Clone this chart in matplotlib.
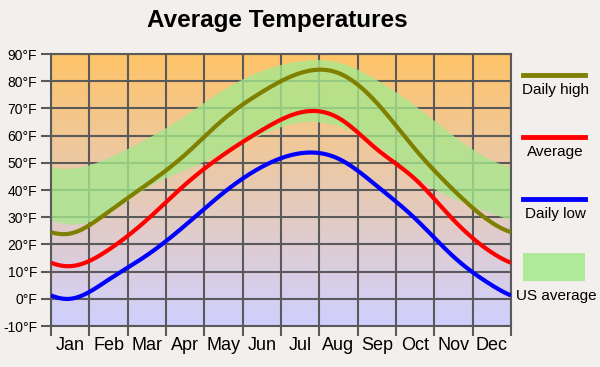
import numpy as np
import matplotlib
matplotlib.use("Agg")
import matplotlib.pyplot as plt
from matplotlib.lines import Line2D
from matplotlib.patches import Rectangle

# monthly values (deg F) at month centres
months = ["Jan", "Feb", "Mar", "Apr", "May", "Jun", "Jul", "Aug", "Sep", "Oct", "Nov", "Dec"]
daily_high = [24, 32, 42, 53, 66, 76, 83, 83, 72, 55, 40, 28]
average = [12, 18, 29, 42, 53, 62, 68.5, 66.5, 55, 44, 29, 17]
daily_low = [0, 7, 16, 27, 39, 48.5, 53.5, 51.5, 41.5, 29.5, 15.5, 5]
us_avg_low = [27.5, 31.5, 41, 47.5, 54, 60.5, 65, 63.5, 56.5, 45, 37, 31.5]
us_avg_high = [48, 52, 59, 67.5, 77, 84, 87.5, 87, 80.5, 71, 60, 51]
y_ticks = list(range(-10, 100, 10))
legend_labels = ["Daily high", "Average", "Daily low", "US average"]

FONT = "Liberation Sans"
BG = "#f2efec"
GREEN = "#a6e88c"


def periodic_spline(vals, xs):
    # smooth closed curve through the 12 monthly points (period = 12 months)
    y = np.asarray(vals, dtype=float)
    n = len(y)
    A = np.zeros((n, n))
    for i in range(n):
        A[i, i] = 4
        A[i, (i - 1) % n] = 1
        A[i, (i + 1) % n] = 1
    rhs = 6 * (np.roll(y, 1) - 2 * y + np.roll(y, -1))
    M = np.linalg.solve(A, rhs)
    knots = np.arange(n) + 0.5
    out = np.empty_like(xs)
    for k, x in enumerate(xs):
        u = (x - 0.5) % n
        i = int(np.floor(u)) % n
        t = u - np.floor(u)
        j = (i + 1) % n
        out[k] = ((1 - t) * y[i] + t * y[j]
                  + ((1 - t) ** 3 - (1 - t)) * M[i] / 6
                  + (t ** 3 - t) * M[j] / 6)
    return out


fig = plt.figure(figsize=(6, 3.67), dpi=100, facecolor=BG)
ax = fig.add_axes([0.085, 0.1117, 0.7667, 0.7411])

# background gradient, orange at top to lavender at bottom
top = np.array([255, 196, 104]) / 255
bot = np.array([208, 208, 255]) / 255
f = np.linspace(0, 1, 256)[:, None]
grad = (top * (1 - f) + bot * f)[:, None, :]
ax.imshow(grad, extent=[0, 12, -10, 90], aspect="auto", zorder=0, interpolation="bilinear")

# grid
for yv in y_ticks:
    ax.axhline(yv, color="#5a5a5a", lw=1.5, zorder=1)
for xv in range(13):
    ax.axvline(xv, color="#5a5a5a", lw=1.5, zorder=1)

xs = np.linspace(0, 12, 600)
ax.fill_between(xs, periodic_spline(us_avg_low, xs), periodic_spline(us_avg_high, xs),
                color=GREEN, alpha=0.78, lw=0, zorder=2)
ax.plot(xs, periodic_spline(daily_high, xs), color="#808000", lw=3, zorder=3, solid_capstyle="butt")
ax.plot(xs, periodic_spline(average, xs), color="#ff0000", lw=3, zorder=3, solid_capstyle="butt")
ax.plot(xs, periodic_spline(daily_low, xs), color="#0000ff", lw=3, zorder=3, solid_capstyle="butt")

ax.set_xlim(0, 12)
ax.set_ylim(-10, 90)
ax.set_yticks(y_ticks)
ax.set_yticklabels([f"{v}\u00b0F" for v in y_ticks], fontsize=10, family=FONT)
ax.set_xticks(range(13))
ax.set_xticklabels([])
ax.set_xticks(np.arange(12) + 0.5, minor=True)
ax.set_xticklabels(months, minor=True, fontsize=13, family=FONT)
ax.tick_params(axis="y", length=7, width=1.5, color="#5a5a5a", pad=3)
ax.tick_params(axis="x", which="major", length=7, width=1.5, color="#5a5a5a")
ax.tick_params(axis="x", which="minor", length=0, pad=8)
for s in ax.spines.values():
    s.set_color("#5a5a5a")
    s.set_linewidth(1.5)

fig.text(0.462, 0.945, "Average Temperatures", ha="center", va="center",
         fontsize=17.5, fontweight="bold", family=FONT)

# legend on the right
line_colors = ["#808000", "#ff0000", "#0000ff"]
sw_y = [75, 137, 199]
for lab, c, yy in zip(legend_labels[:3], line_colors, sw_y):
    fig.add_artist(Line2D([523 / 600, 585 / 600], [1 - yy / 367] * 2, color=c, lw=3.5))
    fig.text(555 / 600, 1 - (yy + 15) / 367, lab, ha="center", va="center", fontsize=11, family=FONT)
fig.add_artist(Rectangle((523 / 600, 1 - 281 / 367), 62 / 600, 28 / 367,
                         transform=fig.transFigure, facecolor=GREEN, alpha=0.85, lw=0))
fig.text(556 / 600, 1 - 296 / 367, legend_labels[3], ha="center", va="center", fontsize=11, family=FONT)

fig.savefig("out.png", dpi=100, facecolor=BG)
